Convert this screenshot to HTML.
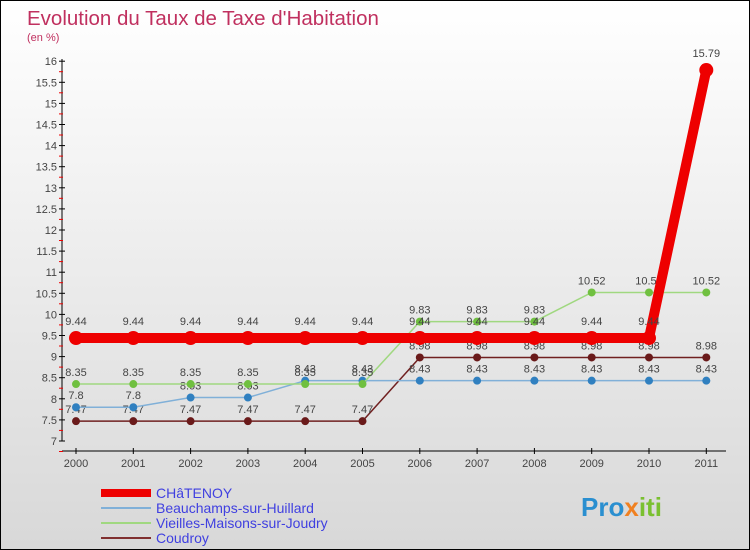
<!DOCTYPE html>
<html><head><meta charset="utf-8"><style>
body{margin:0}
#c{width:748px;height:548px;border:1px solid #000;position:relative;background:linear-gradient(#fff,#d8d8d8);font-family:"Liberation Sans",sans-serif;overflow:hidden}
</style></head><body>
<div id="c">
<svg width="748" height="548" id="s">
<text x="26" y="24" font-size="20.5" fill="#c0305f">Evolution du Taux de Taxe d'Habitation</text>
<text x="26" y="40" font-size="11" fill="#c0305f">(en %)</text>
<text x="580" y="515" font-size="26" font-weight="bold" fill="#2a8fd0">Pro<tspan fill="#f08020">x</tspan><tspan fill="#7ac030">iti</tspan></text>
</svg>
</div>
<script>
const years=["2000","2001","2002","2003","2004","2005","2006","2007","2008","2009","2010","2011"];
const chatenoy=[9.44,9.44,9.44,9.44,9.44,9.44,9.44,9.44,9.44,9.44,9.44,15.79];
const beauchamps=[7.8,7.8,8.03,8.03,8.43,8.43,8.43,8.43,8.43,8.43,8.43,8.43];
const vieilles=[8.35,8.35,8.35,8.35,8.35,8.35,9.83,9.83,9.83,10.52,10.52,10.52];
const coudroy=[7.47,7.47,7.47,7.47,7.47,7.47,8.98,8.98,8.98,8.98,8.98,8.98];
const yTicks=[7,7.5,8,8.5,9,9.5,10,10.5,11,11.5,12,12.5,13,13.5,14,14.5,15,15.5,16];
const names=["CHâTENOY","Beauchamps-sur-Huillard","Vieilles-Maisons-sur-Joudry","Coudroy"];
const NS="http://www.w3.org/2000/svg",s=document.getElementById('s');
const X=i=>75+i*57.3, Y=v=>440-(v-7)*42.2;
function el(t,a,p){const e=document.createElementNS(NS,t);for(const k in a)e.setAttribute(k,a[k]);(p||s).appendChild(e);return e;}
let ax=el('line',{x1:61,y1:58,x2:61,y2:440,stroke:'#000'});
let xa=el('line',{x1:61,y1:450,x2:725,y2:450,stroke:'#000'});
yTicks.forEach(v=>{let y=Y(v);el('line',{x1:58,y1:y,x2:64,y2:y,stroke:'#000'});el('line',{x1:58,y1:y+10.5,x2:62,y2:y+10.5,stroke:'#e00'});
let t=el('text',{x:56,y:y+4,'font-size':11,'text-anchor':'end',fill:'#444'});t.textContent=v;});
years.forEach((yr,i)=>{el('line',{x1:X(i),y1:447,x2:X(i),y2:453,stroke:'#000'});let t=el('text',{x:X(i),y:466,'font-size':11,'text-anchor':'middle',fill:'#444'});t.textContent=yr;});
const series=[[coudroy,'#702020','#6a1a1a',1.5,4],[beauchamps,'#80b0d8','#3080c0',1.5,4],[vieilles,'#a0d880','#70c040',1.5,4],[chatenoy,'#ee0000','#ee0000',10,7]];
series.forEach(([d,lc,mc,w,r],si)=>{let g=el('g',{});
el('polyline',{points:d.map((v,i)=>X(i)+','+Y(v)).join(' '),fill:'none',stroke:lc,'stroke-width':w},g);
d.forEach((v,i)=>{let c=el('circle',{cx:X(i),cy:Y(v),r:r,fill:mc},g);
let t=el('text',{x:X(i),y:Y(v)-(w>5?13:8),'font-size':11,'text-anchor':'middle',fill:'#444'},g);t.textContent=v;});});
const lc=['#ee0000','#80b0d8','#a0d880','#803030'];
names.forEach((n,i)=>{let y=492+i*15;el('line',{x1:100,y1:y,x2:150,y2:y,stroke:lc[i],'stroke-width':i==0?8:2});
let t=el('text',{x:155,y:y+5,'font-size':14,fill:'#4040e0'});t.textContent=n;});
</script>
</body></html>
